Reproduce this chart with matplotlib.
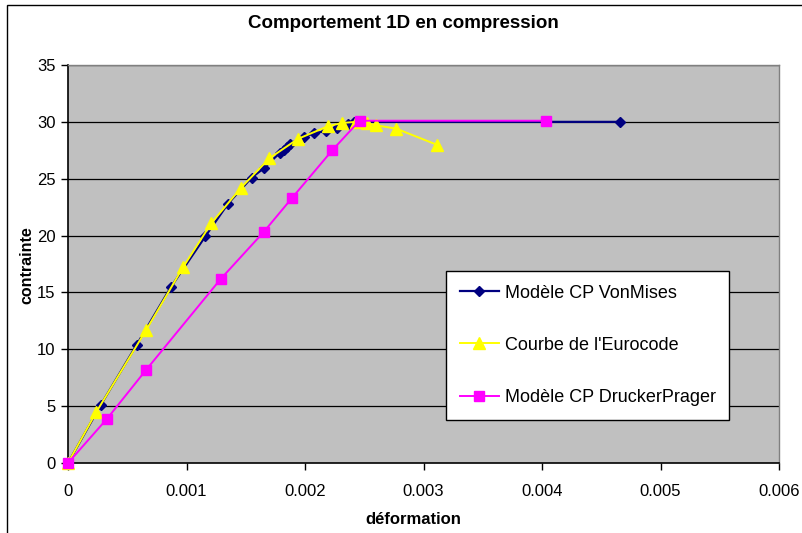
import matplotlib
matplotlib.use("Agg")
import matplotlib.pyplot as plt
from matplotlib.patches import Rectangle

plt.rcParams['font.family'] = ['Liberation Sans', 'DejaVu Sans']

title = "Comportement 1D en compression"
xlabel = "déformation"
ylabel = "contrainte"

vm_label = "Modèle CP VonMises"
vm_x = [0, 0.000276, 0.00058, 0.00087, 0.00116, 0.00135, 0.00155, 0.00165, 0.00179,
        0.00182, 0.00185, 0.00187, 0.00199, 0.00208, 0.00218, 0.00227, 0.00236, 0.00241, 0.00466]
vm_y = [0, 5.1, 10.4, 15.5, 19.95, 22.8, 25.1, 25.9, 27.3,
        27.5, 27.8, 28.05, 28.7, 29.0, 29.2, 29.5, 29.8, 30.0, 30.0]

ec_label = "Courbe de l'Eurocode"
ec_x = [0, 0.00024, 0.00066, 0.00097, 0.00121, 0.00146, 0.0017, 0.00194, 0.00219,
        0.00231, 0.00243, 0.00252, 0.0026, 0.00277, 0.00311]
ec_y = [0, 4.5, 11.7, 17.2, 21.1, 24.2, 26.8, 28.5, 29.6,
        29.9, 30.0, 29.9, 29.7, 29.4, 28.0]

dp_label = "Modèle CP DruckerPrager"
dp_x = [0, 0.00033, 0.00066, 0.00129, 0.00165, 0.00189, 0.00223, 0.00246, 0.00403]
dp_y = [0, 3.9, 8.2, 16.2, 20.3, 23.3, 27.5, 30.1, 30.1]

x_ticks = [0, 0.001, 0.002, 0.003, 0.004, 0.005, 0.006]
x_ticklabels = ["0", "0.001", "0.002", "0.003", "0.004", "0.005", "0.006"]
y_ticks = [0, 5, 10, 15, 20, 25, 30, 35]

W, H = 802, 533
fig = plt.figure(figsize=(W / 100, H / 100), dpi=100)
fig.patch.set_facecolor('white')

# outer chart border
fig.patches.append(Rectangle((7 / W, -0.1), 1.2, 1 - 5 / H + 0.1, transform=fig.transFigure,
                             fill=False, edgecolor='black', linewidth=1.0))

L, R, T, B = 68, 779, 65, 463
ax = fig.add_axes([L / W, 1 - B / H, (R - L) / W, (B - T) / H])
ax.set_facecolor('#C0C0C0')
ax.set_xlim(0, 0.006)
ax.set_ylim(0, 35)

for yv in y_ticks[1:]:
    ax.axhline(yv, color='black', linewidth=0.9, zorder=1)

ax.plot(vm_x, vm_y, color='#000080', marker='D', markersize=5.5, linewidth=1.6,
        label=vm_label, zorder=3, clip_on=False)
ax.plot(ec_x, ec_y, color='#FFFF00', marker='^', markersize=8, linewidth=1.4,
        label=ec_label, zorder=4, clip_on=False)
ax.plot(dp_x, dp_y, color='#FF00FF', marker='s', markersize=6.5, linewidth=1.4,
        label=dp_label, zorder=5, clip_on=False)

ax.set_xticks(x_ticks)
ax.set_xticklabels(x_ticklabels)
ax.set_yticks(y_ticks)
ax.tick_params(axis='both', direction='out', length=5, width=1, color='black',
               labelsize=12, pad=4)
ax.tick_params(axis='x', pad=10)

for s in ['left', 'bottom']:
    ax.spines[s].set_color('black')
    ax.spines[s].set_linewidth(1.2)
for s in ['top', 'right']:
    ax.spines[s].set_color('#808080')
    ax.spines[s].set_linewidth(1.0)

fig.text(403 / W, 1 - 23 / H, title, ha='center', va='center', fontsize=13.5, fontweight='bold')
fig.text(413 / W, 1 - 519 / H, xlabel, ha='center', va='center', fontsize=12, fontweight='bold')
fig.text(27 / W, 1 - 265 / H, ylabel, ha='center', va='center', fontsize=11.5,
         fontweight='bold', rotation=90)

leg = fig.legend(loc='upper left', bbox_to_anchor=(446 / W, 1 - 271 / H),
                 frameon=True, fancybox=False, edgecolor='black', framealpha=1,
                 fontsize=13, labelspacing=1.95, handlelength=2.2, handletextpad=0.3,
                 borderpad=0.75, borderaxespad=0)
leg.get_frame().set_linewidth(1.0)

fig.savefig("out.png", dpi=100)
